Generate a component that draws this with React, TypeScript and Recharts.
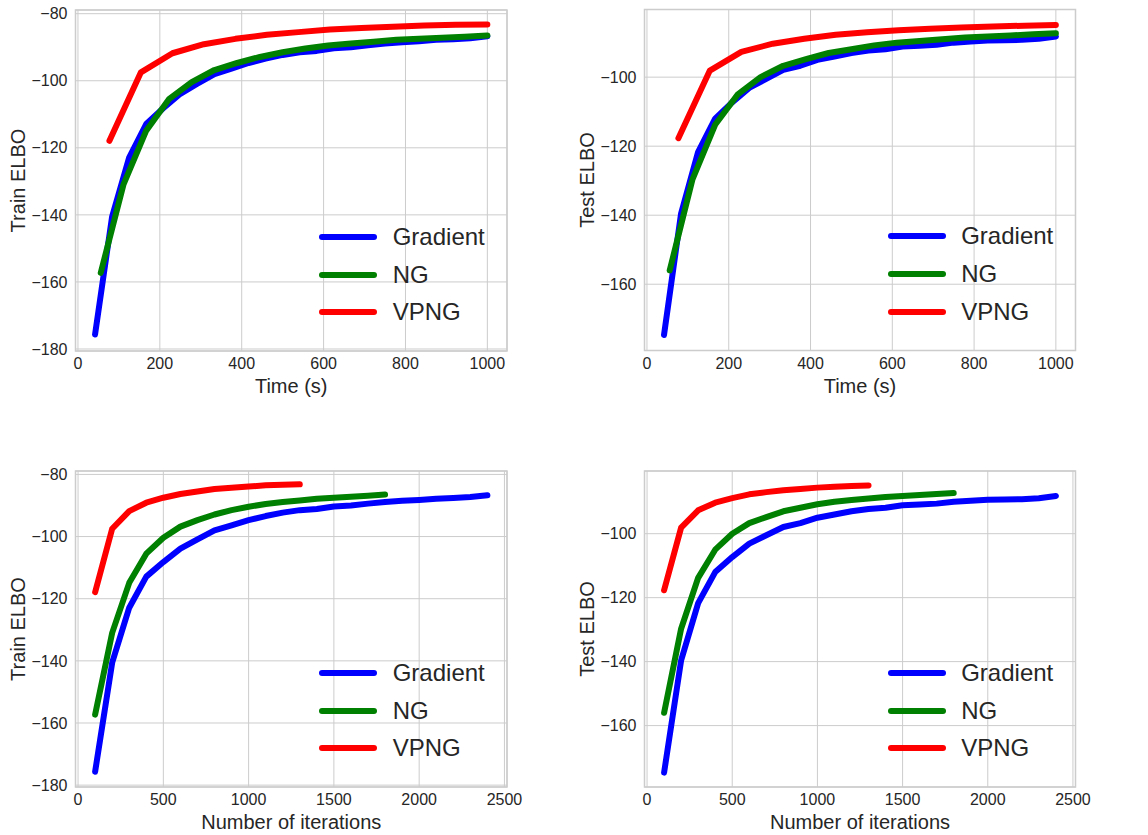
import React from 'react';
import { LineChart, Line, XAxis, YAxis, CartesianGrid, ReferenceArea, Legend, Label } from 'recharts';

const seriesNames = ['Gradient', 'NG', 'VPNG'];
const seriesColors = ['#0000ff', '#008000', '#ff0000'];

const gradIters = [100, 200, 300, 400, 500, 600, 700, 800, 900, 1000, 1100, 1200, 1300, 1400, 1500, 1600, 1700, 1800, 1900, 2000, 2100, 2200, 2300, 2400];
const ngIters = [100, 200, 300, 400, 500, 600, 700, 800, 900, 1000, 1100, 1200, 1300, 1400, 1500, 1600, 1700, 1800];
const vpngIters = [100, 200, 300, 400, 500, 600, 700, 800, 900, 1000, 1100, 1200, 1300];

const gradTime = [41.7, 83.3, 125.0, 166.7, 208.3, 250.0, 291.7, 333.3, 375.0, 416.7, 458.3, 500.0, 541.7, 583.3, 625.0, 666.7, 708.3, 750.0, 791.7, 833.3, 875.0, 916.7, 958.3, 1000.0];
const ngTime = [55.6, 111.1, 166.7, 222.2, 277.8, 333.3, 388.9, 444.4, 500.0, 555.6, 611.1, 666.7, 722.2, 777.8, 833.3, 888.9, 944.4, 1000.0];
const vpngTime = [76.9, 153.8, 230.8, 307.7, 384.6, 461.5, 538.5, 615.4, 692.3, 769.2, 846.2, 923.1, 1000.0];

const gradTrain = [-175.7, -140.6, -122.9, -112.9, -108.2, -103.9, -100.9, -98.0, -96.4, -94.7, -93.4, -92.3, -91.5, -91.1, -90.3, -90.0, -89.4, -88.9, -88.5, -88.2, -87.8, -87.6, -87.3, -86.7];
const ngTrain = [-157.3, -131.0, -114.9, -105.5, -100.4, -96.8, -94.7, -92.9, -91.5, -90.4, -89.5, -88.9, -88.4, -87.8, -87.5, -87.2, -86.9, -86.5];
const vpngTrain = [-117.9, -97.5, -91.8, -89.1, -87.5, -86.3, -85.5, -84.7, -84.3, -83.9, -83.5, -83.3, -83.2];

const gradTest = [-174.7, -139.6, -121.7, -112.0, -107.3, -103.1, -100.5, -97.9, -96.7, -95.0, -94.0, -93.0, -92.3, -91.9, -91.1, -90.9, -90.6, -90.0, -89.7, -89.4, -89.3, -89.2, -88.9, -88.2];
const ngTest = [-156.0, -129.7, -113.8, -105.0, -100.0, -96.7, -94.8, -93.0, -91.9, -90.8, -90.0, -89.5, -89.0, -88.5, -88.2, -87.9, -87.6, -87.3];
const vpngTest = [-117.7, -98.1, -92.7, -90.3, -88.9, -87.7, -87.0, -86.4, -86.0, -85.6, -85.3, -85.1, -84.9];

const timeTicks = [0, 200, 400, 600, 800, 1000];
const iterTicks = [0, 500, 1000, 1500, 2000, 2500];
const trainYTicks = [-180, -160, -140, -120, -100, -80];
const testYTicks = [-160, -140, -120, -100];

const FONT = '"Liberation Sans", Arial, Helvetica, sans-serif';
const TEXT = '#262626';

const zip = (xs: number[], ys: number[]) => xs.map((x, i) => ({ x, y: ys[i] }));

const fmt = (v: number) => String(v).replace('-', '\u2212');

const LegendBox = (props: any) => {
  const payload = props.payload || [];
  return (
    <div style={{ fontFamily: FONT }}>
      {payload.map((p: any) => (
        <div key={p.value} style={{ display: 'flex', alignItems: 'center', height: 37.8 }}>
          <svg width={58} height={10} style={{ display: 'block', marginLeft: -3 }}>
            <line x1={3} y1={5} x2={55} y2={5} stroke={p.color} strokeWidth={6} strokeLinecap="round" />
          </svg>
          <span style={{ fontSize: 24, color: TEXT, marginLeft: 15.7, lineHeight: '24px' }}>{p.value}</span>
        </div>
      ))}
    </div>
  );
};

type PanelProps = {
  left: number; top: number;
  frame: { l: number; r: number; t: number; b: number };
  xDomain: [number, number]; yDomain: [number, number];
  xTicks: number[]; yTicks: number[];
  xLabel: string; yLabel: string;
  xs: number[][]; ys: number[][];
};

const W = 574;
const H = 415;
const XAH = 48;

const Panel = ({ left, top, frame, xDomain, yDomain, xTicks, yTicks, xLabel, yLabel, xs, ys }: PanelProps) => {
  const mTop = frame.t - top;
  const mRight = left + W - frame.r;
  const yw = frame.l - left;
  const mBottom = top + H - frame.b - XAH;
  const legendLeft = frame.r - 185 - left;
  const legendTop = frame.b - top - 38.5 - 2 * 37.8 - 18.9;
  return (
    <div style={{ position: 'absolute', left, top, width: W, height: H }}>
      <LineChart width={W} height={H} margin={{ top: mTop, right: mRight, bottom: mBottom, left: 0 }}>
        <CartesianGrid stroke="#cccccc" strokeWidth={1} />
        <XAxis
          type="number" dataKey="x" domain={xDomain} ticks={xTicks} allowDataOverflow
          axisLine={false} tickLine={false} tickSize={0} tickMargin={7} height={XAH}
          tick={{ fill: TEXT, fontSize: 16, fontFamily: FONT }} tickFormatter={fmt} interval={0}
        >
          <Label
            content={(p: any) => {
              const vb = p.viewBox || {};
              return (
                <text x={vb.x + vb.width / 2} y={vb.y + 42} textAnchor="middle" fontSize={20} fill={TEXT} fontFamily={FONT}>{xLabel}</text>
              );
            }}
          />
        </XAxis>
        <YAxis
          type="number" domain={yDomain} ticks={yTicks} allowDataOverflow width={yw}
          axisLine={false} tickLine={false} tickSize={0} tickMargin={8}
          tick={{ fill: TEXT, fontSize: 16, fontFamily: FONT }} tickFormatter={fmt} interval={0}
        >
          <Label
            content={(p: any) => {
              const vb = p.viewBox || {};
              const cx = vb.x + vb.width - 51;
              const cy = vb.y + vb.height / 2;
              return (
                <text x={cx} y={cy} transform={`rotate(-90, ${cx}, ${cy})`} textAnchor="middle" fontSize={20} fill={TEXT} fontFamily={FONT}>{yLabel}</text>
              );
            }}
          />
        </YAxis>
        <ReferenceArea x1={xDomain[0]} x2={xDomain[1]} y1={yDomain[0]} y2={yDomain[1]} fill="none" fillOpacity={0} stroke="#cccccc" strokeWidth={1.5} ifOverflow="visible" />
        {seriesNames.map((name, i) => (
          <Line
            key={name}
            name={name}
            data={zip(xs[i], ys[i])}
            dataKey="y"
            type="linear"
            stroke={seriesColors[i]}
            strokeWidth={6}
            strokeLinecap="round"
            strokeLinejoin="round"
            dot={false}
            activeDot={false}
            isAnimationActive={false}
          />
        ))}
        <Legend
          layout="vertical" align="center" verticalAlign="middle"
          content={<LegendBox />}
          wrapperStyle={{ left: legendLeft, top: legendTop, width: 'auto', height: 'auto' }}
        />
      </LineChart>
    </div>
  );
};

export default function App() {
  return (
    <div style={{ position: 'absolute', left: 0, top: 0, width: 1148, height: 835, background: '#ffffff', overflow: 'hidden' }}>
      <Panel
        left={0} top={0} frame={{ l: 75.5, r: 507, t: 10, b: 351 }}
        xDomain={[-6, 1048]} yDomain={[-180.6, -78.9]} xTicks={timeTicks} yTicks={trainYTicks}
        xLabel="Time (s)" yLabel="Train ELBO"
        xs={[gradTime, ngTime, vpngTime]} ys={[gradTrain, ngTrain, vpngTrain]}
      />
      <Panel
        left={574} top={0} frame={{ l: 644.5, r: 1075.5, t: 9.5, b: 350.5 }}
        xDomain={[-6, 1048]} yDomain={[-179.2, -80.4]} xTicks={timeTicks} yTicks={testYTicks}
        xLabel="Time (s)" yLabel="Test ELBO"
        xs={[gradTime, ngTime, vpngTime]} ys={[gradTest, ngTest, vpngTest]}
      />
      <Panel
        left={0} top={420} frame={{ l: 75.5, r: 507, t: 471, b: 787 }}
        xDomain={[-15, 2515]} yDomain={[-180.6, -78.9]} xTicks={iterTicks} yTicks={trainYTicks}
        xLabel="Number of iterations" yLabel="Train ELBO"
        xs={[gradIters, ngIters, vpngIters]} ys={[gradTrain, ngTrain, vpngTrain]}
      />
      <Panel
        left={574} top={420} frame={{ l: 644.5, r: 1075.5, t: 471, b: 787 }}
        xDomain={[-15, 2515]} yDomain={[-179.2, -80.4]} xTicks={iterTicks} yTicks={testYTicks}
        xLabel="Number of iterations" yLabel="Test ELBO"
        xs={[gradIters, ngIters, vpngIters]} ys={[gradTest, ngTest, vpngTest]}
      />
    </div>
  );
}
